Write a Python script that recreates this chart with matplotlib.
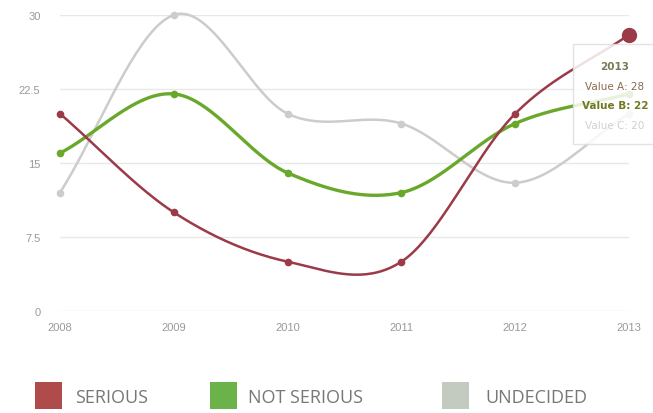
import numpy as np
import matplotlib
matplotlib.use("Agg")
import matplotlib.pyplot as plt
from matplotlib.patches import Rectangle

years = [2008, 2009, 2010, 2011, 2012, 2013]
serious = [20, 10, 5, 5, 20, 28]
not_serious = [16, 22, 14, 12, 19, 22]
undecided = [12, 30, 20, 19, 13, 20]
y_ticks = [0, 7.5, 15, 22.5, 30]
y_tick_labels = ["0", "7.5", "15", "22.5", "30"]
legend_labels = ["SERIOUS", "NOT SERIOUS", "UNDECIDED"]

line_colors = ["#9b3a48", "#6aa82c", "#cccccc"]
legend_colors = ["#b04b4b", "#6cb24a", "#c3cbc1"]


def catmull(xs, ys, n=40):
    xs = np.asarray(xs, float)
    ys = np.asarray(ys, float)
    px = np.concatenate([[2 * xs[0] - xs[1]], xs, [2 * xs[-1] - xs[-2]]])
    py = np.concatenate([[2 * ys[0] - ys[1]], ys, [2 * ys[-1] - ys[-2]]])
    ox, oy = [], []
    for i in range(1, len(px) - 2):
        t = np.linspace(0, 1, n)
        p0, p1, p2, p3 = py[i - 1], py[i], py[i + 1], py[i + 2]
        yy = 0.5 * ((2 * p1) + (-p0 + p2) * t + (2 * p0 - 5 * p1 + 4 * p2 - p3) * t**2
                    + (-p0 + 3 * p1 - 3 * p2 + p3) * t**3)
        xx = px[i] + (px[i + 1] - px[i]) * t
        ox.extend(xx)
        oy.extend(yy)
    return np.array(ox), np.array(oy)


fig = plt.figure(figsize=(6.53, 4.14), dpi=100)
ax = fig.add_axes([60 / 653, 1 - 312 / 414, (629 - 60) / 653, (312 - 16) / 414])
ax.set_xlim(2008, 2013)
ax.set_ylim(0, 30)
for s in ax.spines.values():
    s.set_visible(False)
ax.set_yticks(y_ticks)
ax.set_yticklabels(y_tick_labels, family="Liberation Sans")
ax.set_xticks(years)
ax.set_xticklabels([str(y) for y in years], family="Liberation Sans")
ax.tick_params(length=0, labelsize=8, colors="#999999")
ax.tick_params(axis="y", pad=14)
ax.tick_params(axis="x", pad=8)
ax.grid(axis="y", color="#e8e8e8", linewidth=1)
ax.set_axisbelow(True)

series = [undecided, not_serious, serious]
cols = [line_colors[2], line_colors[1], line_colors[0]]
widths = [1.8, 2.4, 1.8]
for data, c, w in zip(series, cols, widths):
    sx, sy = catmull(years, data)
    ax.plot(sx, sy, color=c, lw=w, clip_on=False, zorder=3)
    ax.plot(years[:-1], data[:-1], "o", color=c, ms=4.5, clip_on=False, zorder=4)

# hovered points
ax.plot(years[-1], undecided[-1], "o", color=line_colors[2], ms=4.5, clip_on=False, zorder=4)
ax.plot(years[-1], not_serious[-1], "o", color=line_colors[1], ms=4.5, clip_on=False, zorder=4)
ax.plot(years[-1], serious[-1], "o", color=line_colors[0], ms=10, clip_on=False, zorder=6)

# tooltip
fig.patches.append(Rectangle((573 / 653, 1 - 145 / 414), 90 / 653, 100 / 414,
                             transform=fig.transFigure, facecolor="white", alpha=0.85,
                             edgecolor="#dddddd", lw=1, zorder=5))
tx = 615 / 653
fig.text(tx, 1 - 67 / 414, "2013", ha="center", va="center", fontsize=7.5,
         fontweight="bold", color="#7a7a55", zorder=7)
fig.text(tx, 1 - 87 / 414, "Value A: 28", ha="center", va="center", fontsize=7.5,
         color="#8a6a50", zorder=7)
fig.text(tx, 1 - 106 / 414, "Value B: 22", ha="center", va="center", fontsize=7.5,
         color="#6e7a1e", fontweight="bold", zorder=7)
fig.text(tx, 1 - 126 / 414, "Value C: 20", ha="center", va="center", fontsize=7.5,
         color="#d0d0d0", zorder=7)

# legend
sq = [(35, 75), (210, 248), (442, 485)]
for (sx0, tx0), c, lab in zip(sq, legend_colors, legend_labels):
    fig.patches.append(Rectangle((sx0 / 653, 1 - 410 / 414), 27 / 653, 27 / 414,
                                 transform=fig.transFigure, facecolor=c, edgecolor="none"))
    fig.text(tx0 / 653, 1 - 398 / 414, lab, ha="left", va="center", fontsize=13,
             color="#777777", family="Open Sans")

fig.savefig("out.png", dpi=100, facecolor="white")
